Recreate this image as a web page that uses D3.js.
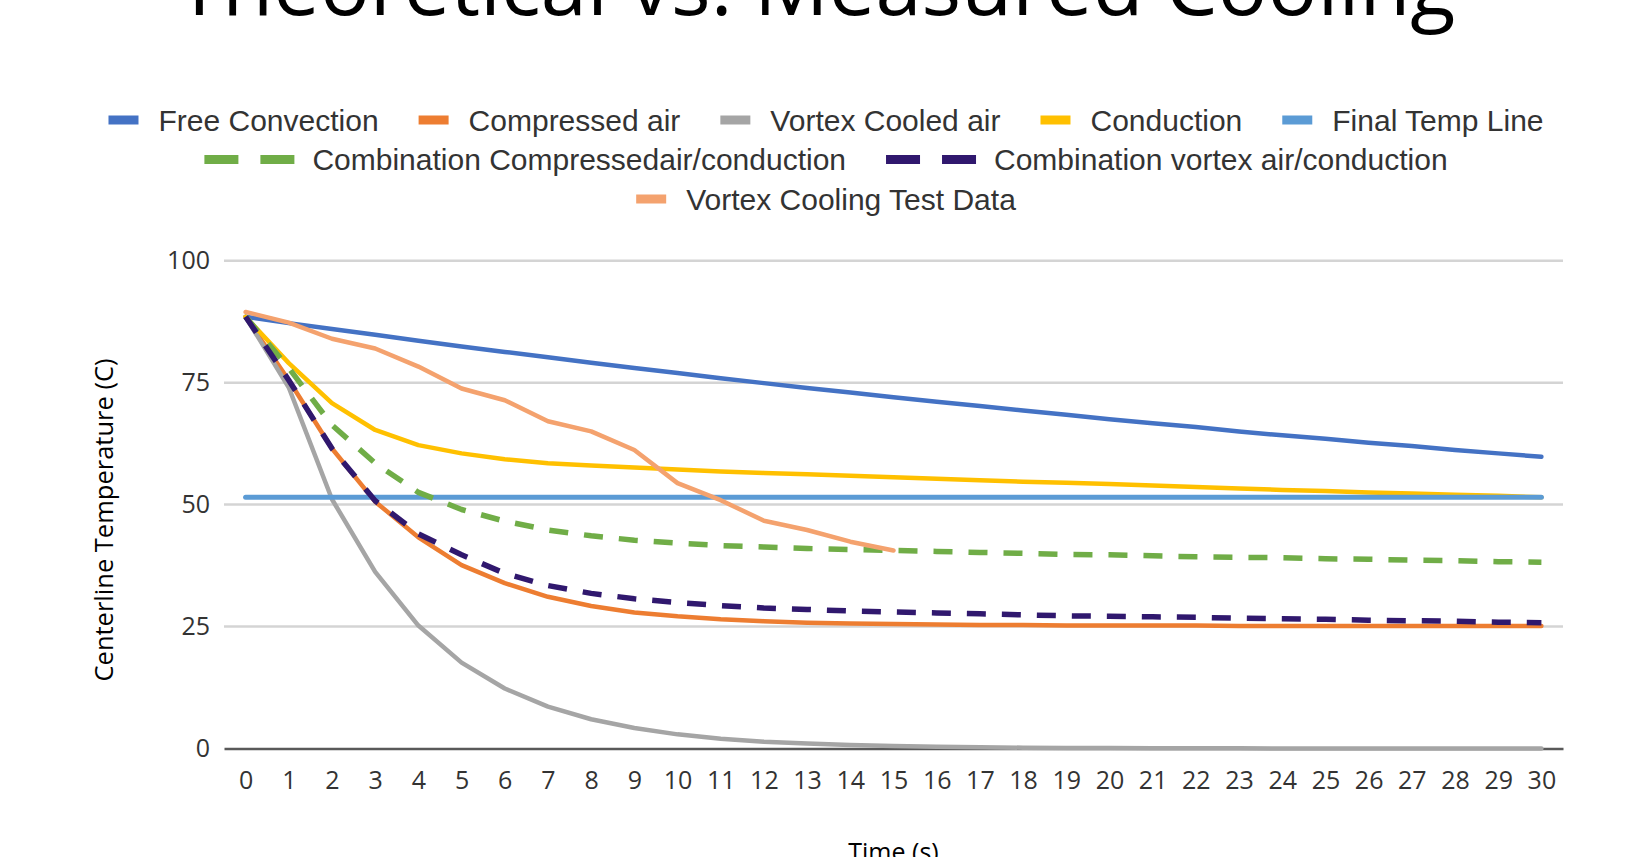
<!DOCTYPE html>
<html>
<head>
<meta charset="utf-8">
<script src="https://cdn.jsdelivr.net/npm/d3@7"></script>
<style>
  html, body { margin: 0; padding: 0; background: #ffffff; }
  svg { display: block; }
</style>
</head>
<body>
<svg id="chart" width="1631" height="857"></svg>
<script>
// Time axis categories (seconds)
const timeSteps = [0, 1, 2, 3, 4, 5, 6, 7, 8, 9, 10, 11, 12, 13, 14, 15,
                   16, 17, 18, 19, 20, 21, 22, 23, 24, 25, 26, 27, 28, 29, 30];
const testTimes = [0, 1, 2, 3, 4, 5, 6, 7, 8, 9, 10, 11, 12, 13, 14, 15];

// Centerline temperature (C) for each cooling method
const freeConvection = [88.5, 87.2, 86.0, 84.8, 83.6, 82.4, 81.3, 80.2, 79.1, 78.0, 77.0,
                        75.9, 74.9, 73.9, 73.0, 72.0, 71.1, 70.2, 69.3, 68.4, 67.5,
                        66.7, 65.9, 65.0, 64.2, 63.5, 62.7, 62.0, 61.2, 60.5, 59.8];
const compressedAir = [88.5, 75.5, 61.5, 50.6, 43.3, 37.6, 33.9, 31.1, 29.2, 27.9, 27.1,
                       26.5, 26.1, 25.8, 25.6, 25.5, 25.4, 25.3, 25.3, 25.2, 25.2,
                       25.2, 25.2, 25.1, 25.1, 25.1, 25.1, 25.1, 25.1, 25.1, 25.1];
const vortexCooledAir = [88.5, 74.0, 51.1, 36.2, 25.2, 17.6, 12.3, 8.6, 6.0, 4.2, 2.9,
                         2.0, 1.4, 1.0, 0.7, 0.5, 0.35, 0.24, 0.17, 0.12, 0.08,
                         0.06, 0.04, 0.03, 0.02, 0.01, 0.01, 0.01, 0.0, 0.0, 0.0];
const conduction = [88.5, 79.0, 70.8, 65.3, 62.2, 60.5, 59.3, 58.5, 58.0, 57.6, 57.2,
                    56.8, 56.5, 56.2, 55.9, 55.6, 55.3, 55.0, 54.7, 54.5, 54.2,
                    53.9, 53.6, 53.3, 53.0, 52.8, 52.5, 52.3, 52.0, 51.8, 51.5];
const finalTempLine = [51.5, 51.5, 51.5, 51.5, 51.5, 51.5, 51.5, 51.5, 51.5, 51.5, 51.5,
                       51.5, 51.5, 51.5, 51.5, 51.5, 51.5, 51.5, 51.5, 51.5, 51.5,
                       51.5, 51.5, 51.5, 51.5, 51.5, 51.5, 51.5, 51.5, 51.5, 51.5];
const comboCompressedConduction = [88.5, 78.0, 66.3, 58.5, 52.5, 49.0, 46.6, 44.8, 43.6, 42.7, 42.1,
                                   41.6, 41.3, 41.0, 40.8, 40.6, 40.4, 40.2, 40.0, 39.8, 39.7,
                                   39.5, 39.3, 39.2, 39.1, 38.9, 38.8, 38.6, 38.5, 38.3, 38.2];
const comboVortexConduction = [88.5, 75.5, 61.5, 50.8, 44.0, 39.7, 35.9, 33.4, 31.8, 30.7, 29.9,
                               29.3, 28.8, 28.5, 28.2, 28.0, 27.8, 27.6, 27.4, 27.2, 27.1,
                               27.0, 26.9, 26.7, 26.6, 26.5, 26.3, 26.2, 26.1, 25.9, 25.8];
const vortexTestData = [89.5, 87.3, 84.0, 82.0, 78.3, 73.8, 71.4, 67.1, 65.0, 61.2, 54.4,
                        50.9, 46.7, 44.8, 42.4, 40.6];

const yTicks = [0, 25, 50, 75, 100];

const series = [
  { name: "Free Convection", t: timeSteps, v: freeConvection, color: "#4472C4", width: 4.5, dash: null },
  { name: "Compressed air", t: timeSteps, v: compressedAir, color: "#ED7D31", width: 4.5, dash: null },
  { name: "Vortex Cooled air", t: timeSteps, v: vortexCooledAir, color: "#A5A5A5", width: 4.5, dash: null },
  { name: "Conduction", t: timeSteps, v: conduction, color: "#FFC000", width: 4.5, dash: null },
  { name: "Final Temp Line", t: timeSteps, v: finalTempLine, color: "#5B9BD5", width: 5, dash: null },
  { name: "Combination Compressedair/conduction", t: timeSteps, v: comboCompressedConduction, color: "#70AD47", width: 5.5, dash: "19 16" },
  { name: "Combination vortex air/conduction", t: timeSteps, v: comboVortexConduction, color: "#30186E", width: 5.5, dash: "19 16" },
  { name: "Vortex Cooling Test Data", t: testTimes, v: vortexTestData, color: "#F4A26E", width: 4.5, dash: null }
];
const legendRows = [[0, 1, 2, 3, 4], [5, 6], [7]];

const svg = d3.select("#chart");
const plot = { left: 224, right: 1563, top: 260.7, bottom: 748.5 };

const x = d3.scalePoint().domain(timeSteps).range([plot.left, plot.right]).padding(0.5);
const y = d3.scaleLinear().domain([0, 100]).range([plot.bottom, plot.top]);

// Title
const title = svg.append("text")
  .attr("x", 816).attr("y", 15)
  .attr("text-anchor", "middle")
  .style("font-family", "'Open Sans', sans-serif")
  .style("font-size", "72px")
  .attr("fill", "#000")
  .text("Theoretical vs. Measured Cooling");
const tw = title.node().getComputedTextLength();
title.style("font-size", (72 * 1279 / tw) + "px");

// Horizontal gridlines
svg.append("g").selectAll("line")
  .data(yTicks.filter(d => d > 0))
  .join("line")
  .attr("x1", plot.left).attr("x2", plot.right)
  .attr("y1", d => y(d)).attr("y2", d => y(d))
  .attr("stroke", "#D4D4D4").attr("stroke-width", 2.5);

// Y axis labels
const yAxis = svg.append("g")
  .attr("transform", `translate(${plot.left},0)`)
  .call(d3.axisLeft(y).tickValues(yTicks).tickSize(0).tickPadding(14));
yAxis.select(".domain").remove();
yAxis.selectAll("text")
  .style("font-family", "'Open Sans', sans-serif")
  .style("font-size", "25px")
  .attr("fill", "#333");

// X axis with baseline
const xAxis = svg.append("g")
  .attr("transform", `translate(0,${plot.bottom})`)
  .call(d3.axisBottom(x).tickSize(0).tickSizeOuter(0).tickPadding(23));
xAxis.select(".domain").attr("stroke", "#595959").attr("stroke-width", 2.5);
xAxis.selectAll("text")
  .style("font-family", "'Open Sans', sans-serif")
  .style("font-size", "25px")
  .attr("fill", "#333");

// Axis titles
svg.append("text")
  .attr("transform", "translate(113,520) rotate(-90)")
  .attr("text-anchor", "middle")
  .style("font-family", "'Open Sans', sans-serif")
  .style("font-size", "25.5px")
  .attr("fill", "#000")
  .text("Centerline Temperature (C)");

svg.append("text")
  .attr("x", (plot.left + plot.right) / 2).attr("y", 861)
  .attr("text-anchor", "middle")
  .style("font-family", "'Open Sans', sans-serif")
  .style("font-size", "25px")
  .attr("fill", "#000")
  .text("Time (s)");

// Series lines
const line = d3.line()
  .x(d => x(d[0]))
  .y(d => y(d[1]));

svg.append("g").selectAll("path")
  .data(series)
  .join("path")
  .attr("d", s => line(s.t.map((t, i) => [t, s.v[i]])))
  .attr("fill", "none")
  .attr("stroke", s => s.color)
  .attr("stroke-width", s => s.width)
  .attr("stroke-dasharray", s => s.dash)
  .attr("stroke-linejoin", "round")
  .attr("stroke-linecap", s => s.dash ? "butt" : "round");

// Legend
const legendFont = "30px";
const legendY = [120, 159.5, 199];
const legendCenter = 826;
const swSolid = 30, swDash = 34, swDashGap = 22, swGap = 20, itemGap = 40;

legendRows.forEach((row, r) => {
  const g = svg.append("g");
  const items = row.map(idx => {
    const s = series[idx];
    const item = g.append("g");
    const swW = s.dash ? swDash * 2 + swDashGap : swSolid;
    if (s.dash) {
      item.append("rect").attr("x", 0).attr("y", -4.5).attr("width", swDash).attr("height", 9).attr("fill", s.color);
      item.append("rect").attr("x", swDash + swDashGap).attr("y", -4.5).attr("width", swDash).attr("height", 9).attr("fill", s.color);
    } else {
      item.append("rect").attr("x", 0).attr("y", -4.5).attr("width", swSolid).attr("height", 9).attr("fill", s.color);
    }
    const txt = item.append("text")
      .attr("x", swW + (s.dash ? 18 : swGap))
      .attr("dy", "0.35em")
      .style("font-family", "'Liberation Sans', Arial, sans-serif")
      .style("font-size", legendFont)
      .attr("fill", "#333")
      .text(s.name);
    const w = swW + (s.dash ? 18 : swGap) + txt.node().getComputedTextLength();
    return { item, w };
  });
  const total = d3.sum(items, d => d.w) + itemGap * (items.length - 1);
  let xPos = legendCenter - total / 2;
  items.forEach(it => {
    it.item.attr("transform", `translate(${xPos},${legendY[r]})`);
    xPos += it.w + itemGap;
  });
});
</script>
</body>
</html>
